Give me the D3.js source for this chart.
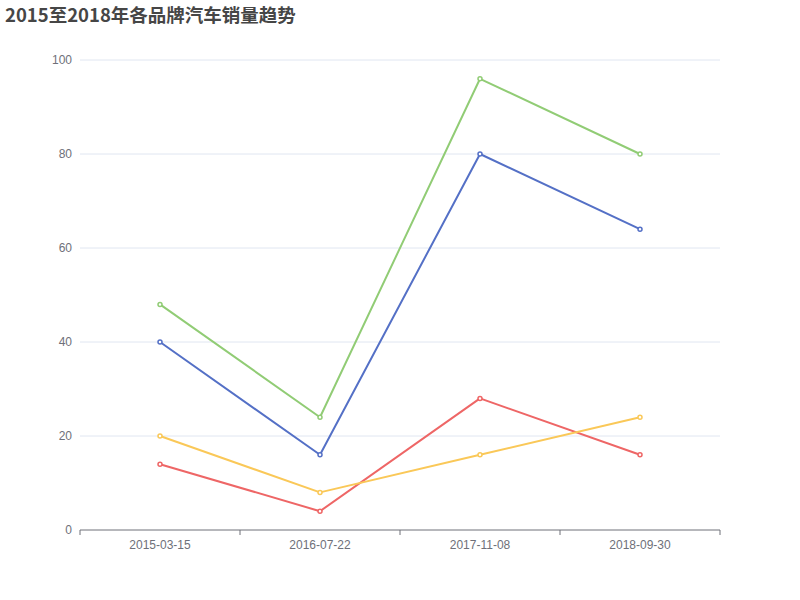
<!DOCTYPE html>
<html>
<head>
<meta charset="utf-8">
<script src="https://cdn.jsdelivr.net/npm/d3@7"></script>
<style>
  body { margin: 0; background: #fff; }
  svg { font-family: "Noto Sans CJK SC", "Microsoft YaHei", sans-serif; }
</style>
</head>
<body>
<svg id="chart" width="800" height="600"></svg>
<script>
const categories = ["2015-03-15", "2016-07-22", "2017-11-08", "2018-09-30"];
const seriesNames = ["品牌A", "品牌B", "品牌C", "品牌D"];
const brandA = [40, 16, 80, 64];
const brandB = [48, 24, 96, 80];
const brandC = [14, 4, 28, 16];
const brandD = [20, 8, 16, 24];
const yTicks = [0, 20, 40, 60, 80, 100];

const colors = ["#5470c6", "#91cc75", "#ee6666", "#fac858"];
const series = [brandA, brandB, brandC, brandD];

const margin = { top: 60, right: 80, bottom: 70, left: 80 };
const width = 800, height = 600;

const svg = d3.select("#chart");

svg.append("text")
  .attr("x", 5).attr("y", 22)
  .attr("fill", "#464646")
  .attr("font-size", 18.5)
  .attr("font-weight", "bold")
  .text("2015至2018年各品牌汽车销量趋势");

const x = d3.scaleBand()
  .domain(categories)
  .range([margin.left, width - margin.right]);

const y = d3.scaleLinear()
  .domain([0, 100])
  .range([height - margin.bottom, margin.top]);

// grid
svg.append("g")
  .selectAll("line")
  .data(yTicks.filter(d => d > 0))
  .join("line")
  .attr("x1", margin.left).attr("x2", width - margin.right)
  .attr("y1", d => y(d)).attr("y2", d => y(d))
  .attr("stroke", "#E0E6F1");

// y labels
svg.append("g")
  .attr("transform", "translate(" + margin.left + ",0)")
  .call(d3.axisLeft(y).tickValues(yTicks).tickSize(0).tickPadding(8))
  .call(g => g.select(".domain").remove())
  .call(g => g.selectAll("text").attr("fill", "#6E7079").attr("font-size", 12)
    .attr("font-family", "sans-serif"));

// x axis
const xAxis = svg.append("g")
  .attr("transform", "translate(0," + y(0) + ")");
xAxis.append("line")
  .attr("x1", margin.left).attr("x2", width - margin.right)
  .attr("stroke", "#6E7079");
const bounds = categories.map(c => x(c)).concat([x.range()[1]]);
xAxis.selectAll(".tick-line")
  .data(bounds)
  .join("line")
  .attr("x1", d => d).attr("x2", d => d)
  .attr("y1", 0).attr("y2", 5)
  .attr("stroke", "#6E7079");
xAxis.selectAll(".lbl")
  .data(categories)
  .join("text")
  .attr("x", d => x(d) + x.bandwidth() / 2)
  .attr("y", 19)
  .attr("text-anchor", "middle")
  .attr("fill", "#6E7079")
  .attr("font-size", 12)
  .attr("font-family", "sans-serif")
  .text(d => d);

const line = d3.line()
  .x((d, i) => x(categories[i]) + x.bandwidth() / 2)
  .y(d => y(d));

series.forEach((data, k) => {
  const g = svg.append("g").attr("class", "series").attr("data-name", seriesNames[k]);
  g.append("path")
    .datum(data)
    .attr("fill", "none")
    .attr("stroke", colors[k])
    .attr("stroke-width", 2)
    .attr("stroke-linejoin", "bevel")
    .attr("d", line);
  g.selectAll("circle")
    .data(data)
    .join("circle")
    .attr("cx", (d, i) => x(categories[i]) + x.bandwidth() / 2)
    .attr("cy", d => y(d))
    .attr("r", 2)
    .attr("fill", "#fff")
    .attr("stroke", colors[k])
    .attr("stroke-width", 1.5);
});
</script>
</body>
</html>
